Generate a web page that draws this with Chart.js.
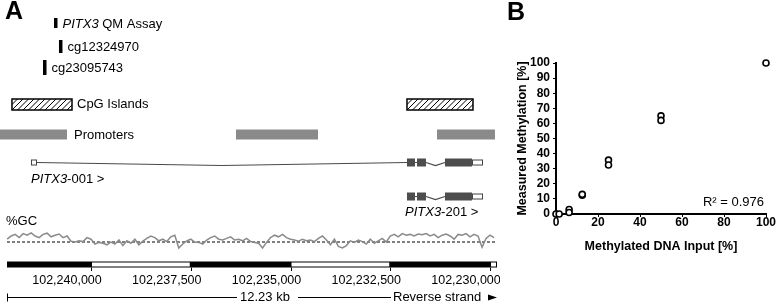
<!DOCTYPE html>
<html>
<head>
<meta charset="utf-8">
<script src="https://cdn.jsdelivr.net/npm/chart.js@4"></script>
<style>
  html, body { margin: 0; padding: 0; background: #fff; }
  #wrap { position: relative; width: 778px; height: 304px; overflow: hidden; }
  #chartA { position: absolute; left: 0; top: 0; }
  #chartB { position: absolute; left: 500px; top: 0; }
</style>
</head>
<body>
<div id="wrap">
  <canvas id="chartA" width="500" height="304"></canvas>
  <canvas id="chartB" width="278" height="304"></canvas>
</div>
<script>
// ---- Panel A: genomic region (reverse strand, coordinates in bp) ----
const regionStart = 102242105;
const regionEnd = 102229825;
const scaleTicks = [102240000, 102237500, 102235000, 102232500, 102230000];
const scaleLabels = ['102,240,000', '102,237,500', '102,235,000', '102,232,500', '102,230,000'];

// %GC in 100 bp windows
const gcWindowStart = 102242100;
const gcWindowSize = 100;
const gcPercent = [
  62, 70, 74, 66, 76, 72, 78, 70, 66, 74, 77, 68, 72, 75, 66, 70, 57, 55, 58, 56,
  66, 62, 50, 54, 52, 48, 55, 50, 60, 46, 58, 52, 62, 48, 57, 64, 70, 66, 58, 62,
  56, 68, 72, 40, 50, 58, 62, 55, 54, 50, 60, 66, 70, 62, 60, 64, 68, 60, 62, 58,
  64, 56, 54, 52, 40, 54, 66, 72, 68, 74, 66, 62, 60, 57, 62, 58, 60, 56, 64, 70,
  60, 48, 62, 44, 40, 46, 58, 54, 60, 56, 50, 62, 52, 58, 64, 55, 70, 74, 68, 76,
  72, 74, 70, 75, 73, 76, 70, 74, 66, 72, 75, 70, 62, 74, 72, 76, 68, 74, 70, 42,
  64, 72, 66
];
const gcMean = 55;

const assayNames = ['PITX3 QM Assay', 'cg12324970', 'cg23095743'];
const assayPositions = [102240890, 102240765, 102241165];

const cpgStarts = [102241980, 102232081];
const cpgEnds = [102240476, 102230427];

const promoterStarts = [102242280, 102236366, 102231329];
const promoterEnds = [102240601, 102234311, 102229876];

const tx001Starts = [102241504, 102232081, 102231830, 102231129, 102230452];
const tx001Ends = [102241353, 102231880, 102231605, 102230452, 102230176];
const tx001Kinds = ['utr', 'cds', 'cds', 'cds', 'utr'];

const tx201Starts = [102232081, 102231830, 102231129, 102230452];
const tx201Ends = [102231880, 102231605, 102230452, 102230176];
const tx201Kinds = ['cds', 'cds', 'cds', 'utr'];

// ---- Panel B: QM assay calibration ----
const inputLevels = [0, 1.5, 6.25, 6.25, 12.5, 12.5, 25, 25, 50, 50, 100];
const measuredLevels = [0, 0, 3, 1, 12.4, 13, 35.7, 32.5, 65, 62, 100];
const rSquaredLabel = 'R\u00b2 = 0.976';

const FONT = '"Liberation Sans", Arial, sans-serif';

function mixedText(ctx, x, y, parts) {
  // parts: [[text, italic], ...]
  let cx = x;
  parts.forEach(([t, it]) => {
    ctx.font = (it ? 'italic ' : '') + '13px ' + FONT;
    ctx.fillText(t, cx, y);
    cx += ctx.measureText(t).width;
  });
}

function drawTranscript(ctx, xp, yMid, starts, ends, kinds) {
  ctx.strokeStyle = '#4a4a4a';
  ctx.lineWidth = 1.2;
  for (let i = 0; i < starts.length - 1; i++) {
    const a = xp(ends[i]), b = xp(starts[i + 1]);
    if (b - a < 0.5) continue;
    const dip = b - a > 6 ? 3 : 0;
    ctx.beginPath();
    ctx.moveTo(a, yMid);
    ctx.lineTo((a + b) / 2, yMid + dip);
    ctx.lineTo(b, yMid);
    ctx.stroke();
  }
  for (let i = 0; i < starts.length; i++) {
    const a = xp(starts[i]), b = xp(ends[i]);
    if (kinds[i] === 'utr') {
      ctx.fillStyle = '#fff';
      ctx.fillRect(a, yMid - 2.5, b - a, 5);
      ctx.strokeStyle = '#444';
      ctx.lineWidth = 1;
      ctx.strokeRect(a + 0.5, yMid - 2.5, b - a - 1, 5);
    } else {
      ctx.fillStyle = '#4d4d4d';
      ctx.fillRect(a, yMid - 4, b - a, 8);
    }
  }
}

const genomeTracks = {
  id: 'genomeTracks',
  afterDraw(chart) {
    const ctx = chart.ctx;
    const xs = chart.scales.x;
    const xp = v => xs.getPixelForValue(v);
    ctx.save();
    ctx.fillStyle = '#000';
    ctx.textBaseline = 'middle';
    ctx.textAlign = 'left';

    // panel letter
    ctx.font = 'bold 25px ' + FONT;
    ctx.fillText('A', 5, 12);

    // assay markers
    const assayRows = [{ top: 18, h: 10, y: 24 }, { top: 40, h: 13, y: 47 }, { top: 60, h: 15, y: 68 }];
    assayPositions.forEach((p, i) => {
      const x = xp(p);
      const r = assayRows[i];
      ctx.fillStyle = '#000';
      ctx.fillRect(x - 1.5, r.top, 3.5, r.h);
      if (i === 0) {
        mixedText(ctx, x + 7, r.y, [['PITX3', true], [' QM Assay', false]]);
      } else {
        ctx.font = '13px ' + FONT;
        ctx.fillText(assayNames[i], x + 7, r.y);
      }
    });

    // CpG islands (hatched)
    cpgStarts.forEach((s, i) => {
      const a = xp(s), b = xp(cpgEnds[i]);
      const top = 99, h = 11;
      ctx.save();
      ctx.beginPath();
      ctx.rect(a, top, b - a, h);
      ctx.clip();
      ctx.strokeStyle = '#000';
      ctx.lineWidth = 1;
      for (let hx = a - h; hx < b + h; hx += 5.5) {
        ctx.beginPath();
        ctx.moveTo(hx, top + h);
        ctx.lineTo(hx + h, top);
        ctx.stroke();
      }
      ctx.restore();
      ctx.strokeStyle = '#000';
      ctx.lineWidth = 1.5;
      ctx.strokeRect(a, top, b - a, h);
    });
    ctx.fillStyle = '#000';
    ctx.font = '13px ' + FONT;
    ctx.fillText('CpG Islands', xp(cpgEnds[0]) + 5, 104.5);

    // promoters
    ctx.fillStyle = '#8a8a8a';
    promoterStarts.forEach((s, i) => {
      const a = Math.max(0, xp(s)), b = xp(promoterEnds[i]);
      ctx.fillRect(a, 129.5, b - a, 10);
    });
    ctx.fillStyle = '#000';
    ctx.fillText('Promoters', xp(promoterEnds[0]) + 7, 135);

    // transcripts
    drawTranscript(ctx, xp, 162.5, tx001Starts, tx001Ends, tx001Kinds);
    ctx.fillStyle = '#000';
    mixedText(ctx, xp(tx001Starts[0]), 179, [['PITX3', true], ['-001 >', false]]);
    drawTranscript(ctx, xp, 196.5, tx201Starts, tx201Ends, tx201Kinds);
    ctx.fillStyle = '#000';
    mixedText(ctx, xp(tx201Starts[0]) - 2, 212, [['PITX3', true], ['-201 >', false]]);

    // %GC label
    ctx.font = '13px ' + FONT;
    ctx.fillText('%GC', 6, 221);

    // scale bar
    const x0 = xp(regionStart), x1 = xp(regionEnd);
    ctx.fillStyle = '#000';
    ctx.fillRect(x0, 261.5, x1 - x0, 6);
    ctx.fillStyle = '#fff';
    const whiteSpans = [[scaleTicks[0], scaleTicks[1]], [scaleTicks[2], scaleTicks[3]], [scaleTicks[4], regionEnd]];
    whiteSpans.forEach(([s, e]) => {
      const a = xp(s), b = xp(e);
      ctx.fillRect(a + 1, 262.5, b - a - 2, 4);
    });
    ctx.strokeStyle = '#000';
    ctx.lineWidth = 1;
    scaleTicks.forEach(t => {
      const x = Math.round(xp(t)) + 0.5;
      ctx.beginPath();
      ctx.moveTo(x, 267.5);
      ctx.lineTo(x, 271);
      ctx.stroke();
    });
    ctx.fillStyle = '#000';
    ctx.font = '12.5px ' + FONT;
    ctx.textAlign = 'center';
    scaleTicks.forEach((t, i) => {
      ctx.fillText(scaleLabels[i], xp(t) - 24, 280.5);
    });

    // length / strand line
    const ly = 297.5;
    ctx.font = '13px ' + FONT;
    ctx.textAlign = 'left';
    ctx.lineWidth = 1;
    ctx.beginPath();
    ctx.moveTo(x0 + 0.5, ly - 4); ctx.lineTo(x0 + 0.5, ly + 4);
    ctx.moveTo(x0, ly); ctx.lineTo(237, ly);
    ctx.moveTo(298, ly); ctx.lineTo(391, ly);
    ctx.stroke();
    ctx.fillText('12.23 kb', 240, ly);
    ctx.fillText('Reverse strand', 393, ly);
    ctx.beginPath();
    ctx.moveTo(488, ly - 3); ctx.lineTo(497, ly); ctx.lineTo(488, ly + 3);
    ctx.closePath();
    ctx.fill();
    ctx.restore();
  }
};

new Chart(document.getElementById('chartA'), {
  type: 'line',
  data: {
    datasets: [
      {
        data: gcPercent.map((v, i) => ({ x: gcWindowStart - i * gcWindowSize, y: v })),
        borderColor: '#8a8a8a',
        borderWidth: 1.5,
        pointRadius: 0,
        tension: 0,
        clip: false
      },
      {
        data: [{ x: regionStart, y: gcMean }, { x: regionEnd, y: gcMean }],
        borderColor: '#000',
        borderWidth: 1,
        borderDash: [3, 2],
        pointRadius: 0,
        clip: false
      }
    ]
  },
  options: {
    responsive: false,
    animation: false,
    devicePixelRatio: 1,
    layout: { padding: { left: 7, right: 3, top: 228, bottom: 48 } },
    plugins: { legend: { display: false }, tooltip: { enabled: false } },
    scales: {
      x: { type: 'linear', reverse: true, min: regionEnd, max: regionStart, display: false },
      y: { min: 20, max: 90, display: false }
    }
  },
  plugins: [genomeTracks]
});

// ---- Panel B chart ----
const panelBExtras = {
  id: 'panelBExtras',
  afterDraw(chart) {
    const ctx = chart.ctx;
    ctx.save();
    ctx.fillStyle = '#000';
    ctx.textBaseline = 'middle';
    ctx.font = 'bold 25px ' + FONT;
    ctx.textAlign = 'left';
    ctx.fillText('B', 7, 13);
    ctx.font = '13px ' + FONT;
    ctx.textAlign = 'right';
    ctx.fillText(rSquaredLabel, chart.chartArea.right - 2, 202);
    ctx.restore();
  }
};

const axisFont = { family: FONT, size: 12, weight: 'bold' };
const titleFont = { family: FONT, size: 12.5, weight: 'bold' };

new Chart(document.getElementById('chartB'), {
  type: 'scatter',
  data: {
    datasets: [{
      data: inputLevels.map((x, i) => ({ x: x, y: measuredLevels[i] })),
      pointRadius: 3,
      pointBorderWidth: 1.6,
      pointBorderColor: '#000',
      pointBackgroundColor: '#fff',
      clip: false
    }]
  },
  options: {
    responsive: false,
    animation: false,
    devicePixelRatio: 1,
    layout: { padding: { left: 15, right: 12, top: 63, bottom: 50 } },
    plugins: { legend: { display: false }, tooltip: { enabled: false } },
    scales: {
      x: {
        type: 'linear', min: 0, max: 100,
        ticks: { stepSize: 20, color: '#000', font: axisFont, padding: -2, maxRotation: 0 },
        grid: { drawOnChartArea: false, color: '#000', tickLength: 3 },
        border: { color: '#000', width: 2 },
        title: { display: true, text: 'Methylated DNA Input [%]', color: '#000', font: titleFont, padding: 0 },
        afterFit: s => { s.height = 40; }
      },
      y: {
        min: 0, max: 100,
        ticks: { stepSize: 10, autoSkip: false, color: '#000', font: axisFont, padding: 3 },
        grid: { drawOnChartArea: false, color: '#000', tickLength: 3 },
        border: { color: '#000', width: 2 },
        title: { display: true, text: 'Measured Methylation [%]', color: '#000', font: titleFont, padding: 0 },
        afterFit: s => { s.width = 41; }
      }
    }
  },
  plugins: [panelBExtras]
});
</script>
</body>
</html>
